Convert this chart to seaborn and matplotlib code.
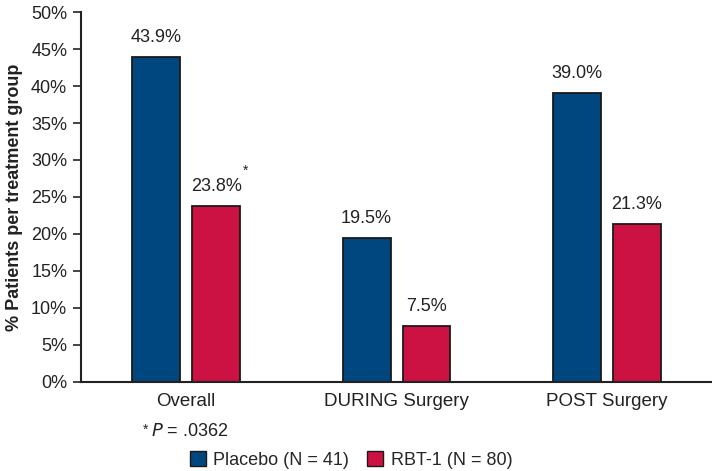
import matplotlib
matplotlib.use("Agg")
import matplotlib.pyplot as plt
import seaborn as sns
import pandas as pd
from matplotlib.patches import Patch

categories = ["Overall", "DURING Surgery", "POST Surgery"]
groups = ["Placebo (N = 41)", "RBT-1 (N = 80)"]
placebo = [43.9, 19.5, 39.0]
rbt1 = [23.8, 7.5, 21.3]
yticks = [0, 5, 10, 15, 20, 25, 30, 35, 40, 45, 50]
colors = ["#00467f", "#cc1242"]

df = pd.DataFrame({
    "category": categories * 2,
    "group": [groups[0]] * 3 + [groups[1]] * 3,
    "value": placebo + rbt1,
})

sns.set_style("white")
plt.rcParams["font.family"] = ["Liberation Sans", "DejaVu Sans"]

fig = plt.figure(figsize=(7.12, 4.71), dpi=100)
ax = fig.add_axes([0.1138, 0.189, 0.8862, 0.7855])

sns.barplot(data=df, x="category", y="value", hue="group", order=categories,
            hue_order=groups, palette=colors, width=0.57, gap=0.2,
            edgecolor="#1a1a1a", linewidth=1.3, saturation=1, ax=ax, legend=False)

ax.set_ylim(0, 50)
ax.set_xlim(-0.5, 2.5)
ax.set_yticks(yticks)
ax.set_yticklabels([f"{t}%" for t in yticks], fontsize=13, color="#222222")
ax.tick_params(axis="y", direction="out", length=6, width=1.2, color="#222222", left=True, pad=4)
ax.tick_params(axis="x", length=0, labelsize=13.5, pad=8, colors="#222222")
ax.set_xlabel("")
ax.set_ylabel("% Patients per treatment group", fontsize=13, fontweight="bold", color="#222222", labelpad=6)
for s in ["top", "right"]:
    ax.spines[s].set_visible(False)
for s in ["left", "bottom"]:
    ax.spines[s].set_linewidth(1.5)
    ax.spines[s].set_color("#222222")

for cont in ax.containers:
    for bar in cont:
        h = bar.get_height()
        x = bar.get_x() + bar.get_width() / 2
        ax.annotate(f"{h:.1f}%", (x, h), xytext=(0, 8), textcoords="offset points",
                    ha="center", va="bottom", fontsize=13, color="#222222")

# asterisk on RBT-1 overall
rb = ax.containers[1][0]
ax.annotate("*", (rb.get_x() + rb.get_width(), rb.get_height()), xytext=(2, 20),
            textcoords="offset points", ha="left", va="bottom", fontsize=10, color="#222222")

fig.text(0.200, 0.088, "*", fontsize=10, color="#222222", ha="left", va="center")
fig.text(0.2115, 0.083, "$\\it{P}$ = .0362", fontsize=13, color="#222222", ha="left", va="center")

handles = [Patch(facecolor=c, edgecolor="#1a1a1a", linewidth=1.0) for c in colors]
fig.legend(handles, groups, loc="center", bbox_to_anchor=(0.493, 0.023), ncol=2,
           frameon=False, fontsize=13, handlelength=0.9, handleheight=0.9,
           handletextpad=0.4, columnspacing=1.0, borderaxespad=0)

fig.savefig("out.png", dpi=100)
